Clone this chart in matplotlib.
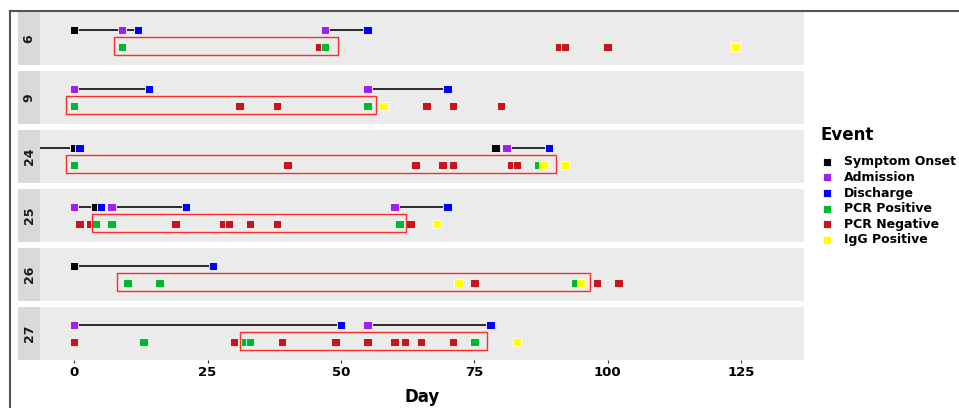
import matplotlib.pyplot as plt
from matplotlib.lines import Line2D
from matplotlib.patches import Rectangle

# facets
patients = ['6', '9', '24', '25', '26', '27']

# event legend
event_codes = ['S', 'A', 'D', 'P', 'N', 'G']
event_names = ['Symptom Onset', 'Admission', 'Discharge', 'PCR Positive', 'PCR Negative', 'IgG Positive']
event_colors = ['#000000', '#a020f0', '#0000ff', '#00b72e', '#c4161c', '#ffff00']
top_codes = ['S', 'A', 'D']   # hospital events on upper row, tests on lower row

# events per patient (day, code)
day_6 = [0, 9, 12, 47, 55, 9, 46, 47, 91, 92, 100, 124]
evt_6 = ['S', 'A', 'D', 'A', 'D', 'P', 'N', 'P', 'N', 'N', 'N', 'G']
day_9 = [0, 14, 55, 70, 0, 31, 38, 55, 58, 66, 71, 80]
evt_9 = ['A', 'D', 'A', 'D', 'P', 'N', 'N', 'P', 'G', 'N', 'N', 'N']
day_24 = [0, 1, 79, 81, 89, 0, 40, 64, 69, 71, 82, 83, 87, 88, 92]
evt_24 = ['S', 'D', 'S', 'A', 'D', 'P', 'N', 'N', 'N', 'N', 'N', 'N', 'P', 'G', 'G']
day_25 = [0, 4, 5, 7, 21, 60, 70, 1, 3, 4, 7, 19, 28, 29, 33, 38, 61, 63, 68]
evt_25 = ['A', 'S', 'D', 'A', 'D', 'A', 'D', 'N', 'N', 'P', 'P', 'N', 'N', 'N', 'N', 'N', 'P', 'N', 'G']
day_26 = [0, 26, 10, 16, 72, 75, 94, 95, 98, 102]
evt_26 = ['S', 'D', 'P', 'P', 'G', 'N', 'P', 'G', 'N', 'N']
day_27 = [0, 50, 55, 78, 0, 13, 30, 32, 33, 39, 49, 55, 60, 62, 65, 71, 75, 83]
evt_27 = ['A', 'D', 'A', 'D', 'N', 'P', 'N', 'P', 'P', 'N', 'N', 'N', 'N', 'N', 'N', 'N', 'P', 'G']

# stay segments (start, end)
seg_6 = [(0, 9), (9, 12), (47, 55)]
seg_9 = [(0, 14), (55, 70)]
seg_24 = [(-10, 0), (81, 89)]
seg_25 = [(0, 5), (7, 21), (60, 70)]
seg_26 = [(0, 26)]
seg_27 = [(0, 50), (55, 78)]

# red boxes around PCR positive period
box_start = [7.5, -1.5, -1.5, 3.3, 8, 31]
box_end = [49.5, 56.5, 90.3, 62.2, 96.7, 77.3]

x_ticks = [0, 25, 50, 75, 100, 125]

all_days = [day_6, day_9, day_24, day_25, day_26, day_27]
all_evts = [evt_6, evt_9, evt_24, evt_25, evt_26, evt_27]
all_segs = [seg_6, seg_9, seg_24, seg_25, seg_26, seg_27]
color_of = dict(zip(event_codes, event_colors))

W, H = 959, 408
fig = plt.figure(figsize=(W / 100, H / 100), dpi=100)

left, right = 40, 804
top0, ph, gap = 12, 53, 6
strip_w = 22

for i, p in enumerate(patients):
    top = top0 + i * (ph + gap)
    ax = fig.add_axes([left / W, 1 - (top + ph) / H, (right - left) / W, ph / H])
    ax.set_facecolor('#ebebeb')
    ax.set_xlim(-6.4, 136.8)
    ax.set_ylim(-1.06, 2.06)
    for s in ax.spines.values():
        s.set_visible(False)
    ax.set_yticks([])

    for a, b in all_segs[i]:
        ax.plot([a, b], [1, 1], color='#1a1a1a', lw=1.3, zorder=2, solid_capstyle='butt')

    ax.add_patch(Rectangle((box_start[i], -0.45), box_end[i] - box_start[i], 1.03,
                           fill=False, ec='#ff2a2a', lw=1.0, zorder=4))

    for row in [1, 0]:
        pts = [(d, e) for d, e in zip(all_days[i], all_evts[i]) if (e in top_codes) == (row == 1)]
        pts.sort(key=lambda t: t[0])
        ax.scatter([d for d, e in pts], [row] * len(pts), marker='s', s=38,
                   c=[color_of[e] for d, e in pts], edgecolors='white', linewidths=0.6, zorder=3)

    # facet strip on the left
    ax.add_patch(Rectangle((-strip_w / (right - left), 0), strip_w / (right - left), 1,
                           transform=ax.transAxes, clip_on=False, fc='#d9d9d9', ec='none'))
    ax.text(-strip_w / 2 / (right - left), 0.5, p, transform=ax.transAxes, rotation=90,
            ha='center', va='center', fontsize=9, fontweight='bold', color='#1a1a1a')

    if i == len(patients) - 1:
        ax.set_xticks(x_ticks)
        ax.tick_params(axis='x', length=2.5, width=0.8, color='#333333', pad=1.5,
                       labelsize=9.5, labelcolor='black')
        for lab in ax.get_xticklabels():
            lab.set_fontweight('bold')
    else:
        ax.set_xticks([])

fig.text((left + right) / 2 / W, 1 - 397 / H, 'Day', ha='center', va='center',
         fontsize=12, fontweight='bold')

# legend
fig.text(820 / W, 1 - 135 / H, 'Event', ha='left', va='center', fontsize=12, fontweight='bold')
for k, (name, col) in enumerate(zip(event_names, event_colors)):
    y = 1 - (161.7 + k * 15.66) / H
    fig.add_artist(Line2D([827 / W], [y], transform=fig.transFigure, marker='s', ms=6,
                          mfc=col, mec='white', mew=0.6, ls='none'))
    fig.text(844 / W, y, name, ha='left', va='center', fontsize=9, fontweight='bold')

# outer frame
fig.add_artist(Line2D([9.5 / W, 9.5 / W], [0, 1 - 11 / H], transform=fig.transFigure,
                      color='#555555', lw=1.5))
fig.add_artist(Line2D([9.5 / W, 1], [1 - 11 / H, 1 - 11 / H], transform=fig.transFigure,
                      color='#555555', lw=1.5))

fig.savefig('out.png', dpi=100)
